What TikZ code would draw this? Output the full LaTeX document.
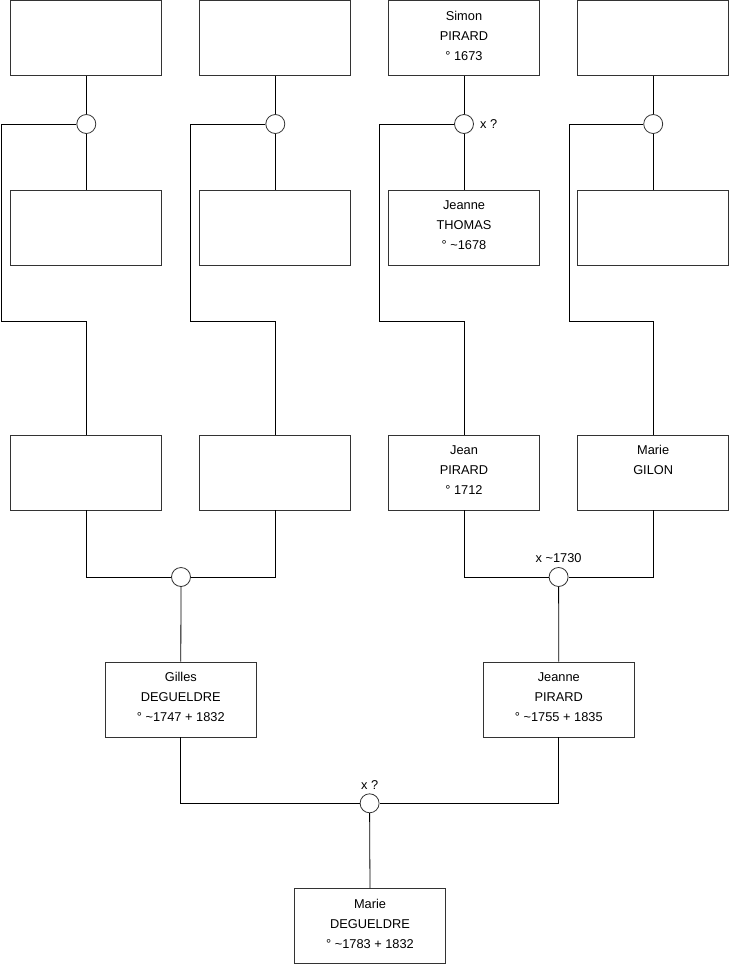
\documentclass[tikz,border=0pt]{standalone}
\usepackage{fontspec}
\setmainfont{Liberation Sans}
\usetikzlibrary{positioning}
\newcommand{\ca}{\textasciitilde}

\begin{document}
\begin{tikzpicture}[x=1pt,y=-1pt,every node/.style={transform shape}]
  \tikzstyle{person}=[draw=black!80,line width=0.8pt,fill=white,minimum width=151pt,minimum height=75pt,
    align=center,inner sep=0pt,font=\fontsize{12.8}{20}\selectfont,
    execute at end node={\rule[-5pt]{0pt}{0pt}}]
  \tikzstyle{union}=[draw=black!80,line width=0.8pt,fill=white,circle,minimum size=19pt,inner sep=0pt]
  \tikzstyle{link}=[black,line width=0.8pt]
  \tikzstyle{note}=[font=\fontsize{12.8}{14}\selectfont,inner sep=0pt]

  \useasboundingbox (0,0) rectangle (740,975);

  % -- Great-great-grandparents (top row) --
  \node[person] (gg1) at (86.3,38)  {};
  \node[person] (gg2) at (275.3,38) {};
  \node[person] (gg3) at (464,38)   {Simon\\PIRARD\\° 1673};
  \node[person] (gg4) at (653.2,38) {};

  % -- Their unions --
  \node[union] (u1) at (86.3,124)  {};
  \node[union] (u2) at (275.3,124) {};
  \node[union] (u3) at (464,124)   {};
  \node[union] (u4) at (653.2,124) {};
  \node[note,right=6pt of u3] (d3) {x ?};

  % -- Spouses (second row) --
  \node[person] (gw1) at (86.3,227.5)  {};
  \node[person] (gw2) at (275.3,227.5) {};
  \node[person] (gw3) at (464,227.5)   {Jeanne\\THOMAS\\° \ca1678};
  \node[person] (gw4) at (653.2,227.5) {};

  % -- Great-grandparents --
  \node[person] (g1) at (86.3,472.5)  {};
  \node[person] (g2) at (275.3,472.5) {};
  \node[person] (g3) at (464,472.5)   {Jean\\PIRARD\\° 1712};
  \node[person] (g4) at (653.2,472.5) {Marie\\GILON\\\mbox{}};

  \node[union] (u5) at (181,577)   {};
  \node[union] (u6) at (558.6,577) {};
  \node[note,above=4pt of u6] (d6) {x \ca1730};

  % -- Parents --
  \node[person] (gilles) at (180.8,699.5) {Gilles\\DEGUELDRE\\° \ca1747 + 1832};
  \node[person] (jeanne) at (558.8,699.5) {Jeanne\\PIRARD\\° \ca1755 + 1835};

  \node[union] (u7) at (369.6,803.3) {};
  \node[note,above=4pt of u7] (d7) {x ?};

  \node[person] (marie) at (370,926) {Marie\\DEGUELDRE\\° \ca1783 + 1832};

  % -- Bends for the long drops --
  \coordinate (k1) at (1.7,321.7);
  \coordinate (k2) at (190.7,321.7);
  \coordinate (k3) at (379,321.7);
  \coordinate (k4) at (569,321.7);

  % -- Lines --
  \foreach \i in {1,...,4} {
    \draw[link] (gg\i.south) -- (u\i.north);
    \draw[link] (u\i.south) -- (gw\i.north);
    \draw[link] (u\i.west) -| (k\i) -| (g\i.north);
  }
  \draw[link] (g1.south) |- (u5.west);
  \draw[link] (g2.south) |- (u5.east);
  \draw[link] (g3.south) |- (u6.west);
  \draw[link] (g4.south) |- (u6.east);
  \draw[link] (u5.south) -- (gilles.north);
  \draw[link] (u6.south) -- (jeanne.north);
  \draw[link] (gilles.south) |- (u7.west);
  \draw[link] (jeanne.south) |- (u7.east);
  \draw[link] (u7.south) -- (marie.north);
\end{tikzpicture}
\end{document}
